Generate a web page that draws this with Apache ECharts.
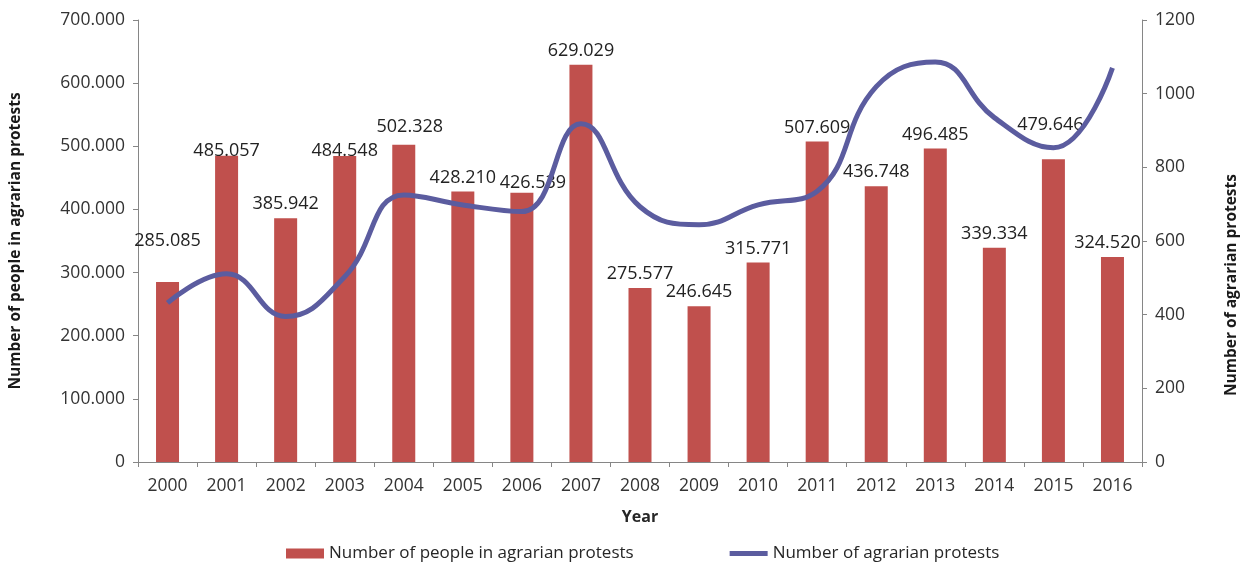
<!DOCTYPE html>
<html>
<head>
<meta charset="utf-8">
<script src="https://cdn.jsdelivr.net/npm/echarts@6/dist/echarts.min.js"></script>
<style>
  html, body { margin: 0; padding: 0; background: #fff; }
  #chart { width: 1248px; height: 567px; }
</style>
</head>
<body>
<div id="chart"></div>
<script>
// values
const years = ['2000', '2001', '2002', '2003', '2004', '2005', '2006', '2007', '2008',
  '2009', '2010', '2011', '2012', '2013', '2014', '2015', '2016'];
const peopleInProtests = [285085, 485057, 385942, 484548, 502328, 428210, 426539, 629029,
  275577, 246645, 315771, 507609, 436748, 496485, 339334, 479646, 324520];
const protestCount = [432, 511, 395, 503, 725, 698, 680, 918, 693, 644, 698, 735, 1019,
  1086, 935, 853, 1070];
const leftTicks = [0, 100000, 200000, 300000, 400000, 500000, 600000, 700000];
const rightTicks = [0, 200, 400, 600, 800, 1000, 1200];

// some labels in the original were dragged around by hand
const labelNudge = {
  '2000': [0, -27], '2001': [0, 9], '2003': [0, 9], '2004': [6, -4],
  '2006': [11, 4], '2015': [-3, -20], '2016': [-5, 0]
};

const font = '"Open Sans", "Noto Sans", sans-serif';
const barColor = '#c0504d';
const lineColor = '#5b5c9f';
const axisGrey = '#868686';

function dotThousands(v) {
  if (v === 0) return '0';
  return (v / 1000).toFixed(3);
}

let barData = peopleInProtests.map((v, i) => {
  let item = { value: v };
  let n = labelNudge[years[i]];
  if (n) item.label = { offset: n };
  return item;
});

let myChart = echarts.init(document.getElementById('chart'));
let option = {
  animation: false,
  textStyle: { fontFamily: font },
  grid: { left: 137, right: 104, top: 20, bottom: 105 },
  legend: {
    left: 281,
    bottom: 0,
    itemGap: 96,
    itemWidth: 38,
    itemHeight: 10,
    textStyle: { fontFamily: font, fontSize: 17, color: '#262626' },
    data: [
      { name: 'Number of people in agrarian protests', icon: 'rect' },
      { name: 'Number of agrarian protests', icon: 'path://M0,0L38,0L38,5L0,5Z' }
    ]
  },
  xAxis: {
    type: 'category',
    data: years,
    name: 'Year',
    nameLocation: 'middle',
    nameGap: 47,
    nameTextStyle: { fontFamily: font, fontWeight: 'bold', fontSize: 16, color: '#262626' },
    axisLine: { lineStyle: { color: axisGrey } },
    axisTick: { show: true, length: 5, lineStyle: { color: axisGrey } },
    axisLabel: { fontSize: 17.5, color: '#333', margin: 15 }
  },
  yAxis: [
    {
      type: 'value',
      min: leftTicks[0],
      max: leftTicks[leftTicks.length - 1],
      interval: leftTicks[1] - leftTicks[0],
      name: 'Number of people in agrarian protests',
      nameLocation: 'middle',
      nameRotate: 90,
      nameGap: 114,
      nameTextStyle: { fontFamily: font, fontWeight: 'bold', fontSize: 15.5, color: '#1a1a1a' },
      axisLine: { show: true, lineStyle: { color: axisGrey } },
      axisTick: { show: true, length: 5, lineStyle: { color: axisGrey } },
      splitLine: { show: false },
      axisLabel: { fontSize: 17.5, color: '#333', margin: 13, formatter: dotThousands }
    },
    {
      type: 'value',
      min: rightTicks[0],
      max: rightTicks[rightTicks.length - 1],
      interval: rightTicks[1] - rightTicks[0],
      position: 'right',
      name: 'Number of agrarian protests',
      nameLocation: 'middle',
      nameRotate: 90,
      nameGap: 82,
      nameTextStyle: {
        fontFamily: font, fontWeight: 'bold', fontSize: 15.5, color: '#1a1a1a',
        padding: [0, 88, 0, 0]
      },
      axisLine: { show: true, lineStyle: { color: axisGrey } },
      axisTick: { show: true, length: 5, lineStyle: { color: axisGrey } },
      splitLine: { show: false },
      axisLabel: { fontSize: 17.5, color: '#333', margin: 13, formatter: v => String(v) }
    }
  ],
  series: [
    {
      name: 'Number of people in agrarian protests',
      type: 'bar',
      yAxisIndex: 0,
      barWidth: 23,
      itemStyle: { color: barColor },
      label: {
        show: true,
        position: 'top',
        distance: 5,
        fontSize: 18,
        color: '#222',
        formatter: p => dotThousands(p.value)
      },
      data: barData
    },
    {
      name: 'Number of agrarian protests',
      type: 'line',
      yAxisIndex: 1,
      smooth: 0.45,
      symbol: 'none',
      lineStyle: { color: lineColor, width: 5 },
      itemStyle: { color: lineColor },
      data: protestCount
    }
  ]
};
myChart.setOption(option);
</script>
</body>
</html>
